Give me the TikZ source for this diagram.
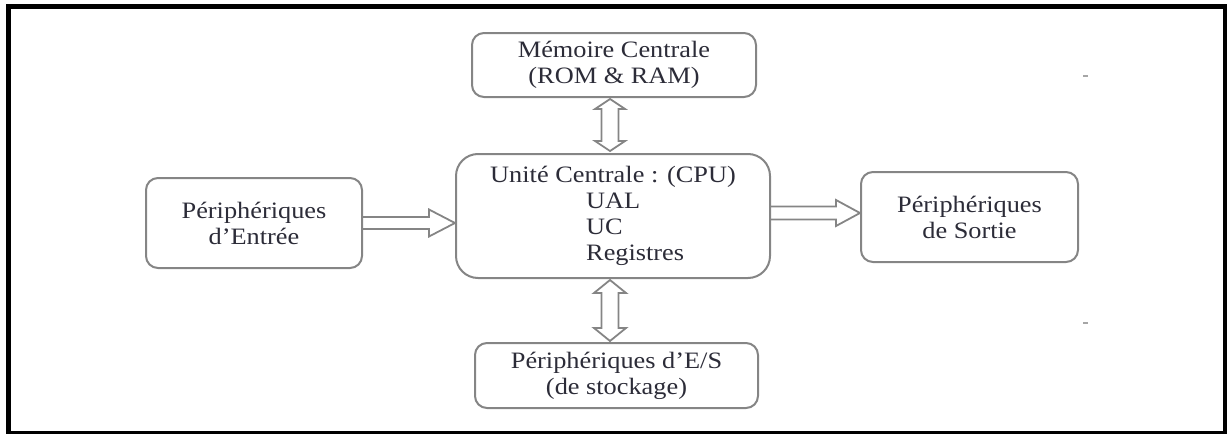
\documentclass[tikz,border=0pt]{standalone}
\usepackage{fontspec}
\setmainfont{Liberation Serif}[FakeStretch=1.12]
\usetikzlibrary{calc}
\definecolor{txt}{HTML}{2C2C38}
\definecolor{bord}{HTML}{858585}
\begin{document}
\begin{tikzpicture}[x=1pt,y=-1pt,
  box/.style={draw=bord, line width=2pt, rounded corners=12pt, inner sep=0pt,
    align=center, text=txt, font=\fontsize{23.5}{26}\selectfont},
  harrow/.style={draw=bord, line width=1.8pt, line join=miter}]
\useasboundingbox (0,0) rectangle (1227,434);
\draw[line width=5pt] (8,6) rectangle (1225,433);

\node[box, minimum width=284pt, minimum height=64pt] (mem) at (614,65)
  {Mémoire Centrale\\(ROM \& RAM)};
\node[box, minimum width=314pt, minimum height=124pt, rounded corners=22pt, align=left] (cpu) at (613,216)
  {Unité Centrale : (CPU)\\\hspace*{96pt}UAL\\\hspace*{96pt}UC\\\hspace*{96pt}Registres};
\node[box, minimum width=216pt, minimum height=90pt] (in) at (254,223)
  {Périphériques\\d’Entrée};
\node[box, minimum width=217pt, minimum height=90pt] (out) at (969.5,217)
  {Périphériques\\de Sortie};
\node[box, minimum width=283pt, minimum height=65pt] (io) at (616.5,375.5)
  {Périphériques d’E/S\\(de stockage)};

\coordinate (xv) at (610,0);
\coordinate (yr) at (0,213);

% left arrow
\draw[harrow] let \p1=(in.east), \p2=(in.east -| cpu.west) in
  (\x1,\y1+6pt) -- (\x2-26pt,\y1+6pt) -- (\x2-26pt,\y1+13.5pt) -- (\x2,\y1)
  -- (\x2-26pt,\y1-13.5pt) -- (\x2-26pt,\y1-6pt) -- (\x1,\y1-6pt);
% right arrow
\draw[harrow] let \p1=(cpu.east |- yr), \p2=(out.west |- yr) in
  (\x1,\y1+6.5pt) -- (\x2-24pt,\y1+6.5pt) -- (\x2-24pt,\y1+13pt) -- (\x2,\y1)
  -- (\x2-24pt,\y1-13pt) -- (\x2-24pt,\y1-6.5pt) -- (\x1,\y1-6.5pt);
% upper double arrow
\draw[harrow] let \p1=($(mem.south -| xv)+(0,1)$), \p2=($(cpu.north -| xv)+(0,-2)$) in
  (\x1,\y1) -- (\x1+15pt,\y1-10pt) -- (\x1+8.5pt,\y1-10pt) -- (\x1+8.5pt,\y2+10pt)
  -- (\x1+15pt,\y2+10pt) -- (\x1,\y2) -- (\x1-15pt,\y2+10pt) -- (\x1-8.5pt,\y2+10pt)
  -- (\x1-8.5pt,\y1-10pt) -- (\x1-15pt,\y1-10pt) -- cycle;
% lower double arrow
\draw[harrow] let \p1=($(cpu.south -| xv)+(0,1)$), \p2=($(io.north -| xv)+(0,-1)$) in
  (\x1,\y1) -- (\x1+16pt,\y1-13pt) -- (\x1+8.5pt,\y1-13pt) -- (\x1+8.5pt,\y2+13pt)
  -- (\x1+16pt,\y2+13pt) -- (\x1,\y2) -- (\x1-16pt,\y2+13pt) -- (\x1-8.5pt,\y2+13pt)
  -- (\x1-8.5pt,\y1-13pt) -- (\x1-16pt,\y1-13pt) -- cycle;

% stray marks
\fill[gray!70] (1083,75) rectangle (1088,77);
\fill[gray!70] (1083,322) rectangle (1088,324);
\end{tikzpicture}
\end{document}
